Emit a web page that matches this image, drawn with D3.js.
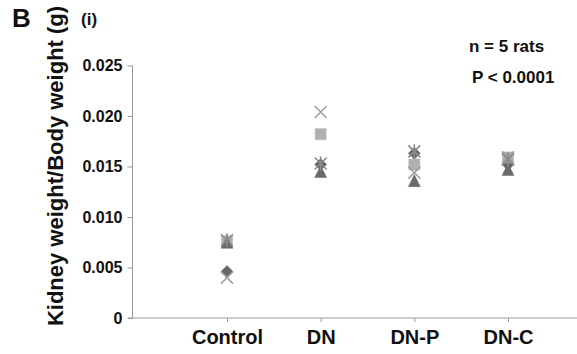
<!DOCTYPE html>
<html>
<head>
<meta charset="utf-8">
<script src="https://cdn.jsdelivr.net/npm/d3@7"></script>
<style>
  body { margin: 0; background: #fff; }
  svg { display: block; font-family: "Liberation Sans", Arial, sans-serif; font-weight: bold; }
</style>
</head>
<body>
<div id="chart"></div>
<script>
const groups = ['Control', 'DN', 'DN-P', 'DN-C'];
const yTicks = [0, 0.005, 0.010, 0.015, 0.020, 0.025];

// one array per rat (Excel series), value per group
const ratDiamond = [0.0046, 0.0152, 0.0163, 0.0152];
const ratSquare = [0.0076, 0.0182, 0.0152, 0.0159];
const ratTriangle = [0.0075, 0.0145, 0.0136, 0.0147];
const ratCross = [0.0040, 0.0204, 0.0144, 0.0159];
const ratStar = [0.0077, 0.0153, 0.0165, 0.0157];

const series = [
  {shape: 'diamond', color: '#666666', values: ratDiamond},
  {shape: 'square', color: '#b0b0b0', values: ratSquare},
  {shape: 'triangle', color: '#6a6a6a', values: ratTriangle},
  {shape: 'cross', color: '#a0a0a0', values: ratCross},
  {shape: 'star', color: '#8a8a8a', values: ratStar}
];

const width = 577, height = 354;
const svg = d3.select('#chart').append('svg')
  .attr('width', width)
  .attr('height', height);

const x = d3.scalePoint().domain(groups).range([227, 508]);
const y = d3.scaleLinear().domain([0, 0.025]).range([318, 65.5]);
const axisColor = '#9a9a9a';

// y axis
const yAxis = svg.append('g')
  .attr('transform', 'translate(132.5,0)')
  .call(d3.axisLeft(y).tickValues(yTicks).tickSize(5).tickPadding(5)
    .tickFormat(d => d === 0 ? '0' : d3.format('.3f')(d)));
yAxis.select('.domain').attr('stroke', axisColor).attr('d', `M0,${y(0.025)}V${y(0)}`);
yAxis.selectAll('.tick line').attr('stroke', axisColor);
yAxis.selectAll('.tick text')
  .attr('fill', '#111')
  .style('font-size', '16px')
  .style('font-weight', 'bold')
  .style('font-family', '"Liberation Sans", Arial, sans-serif');

// x axis
const xAxis = svg.append('g')
  .attr('transform', `translate(0,${y(0)})`)
  .call(d3.axisBottom(x).tickSize(4).tickPadding(10));
xAxis.select('.domain').attr('stroke', axisColor).attr('d', `M128,0H${width}`);
xAxis.selectAll('.tick line').attr('stroke', axisColor);
xAxis.selectAll('.tick text')
  .attr('fill', '#111')
  .attr('dy', '0.6em')
  .style('font-size', '20px')
  .style('font-weight', 'bold')
  .style('font-family', '"Liberation Sans", Arial, sans-serif');

// markers
const s = 6;
function markerPath(shape) {
  switch (shape) {
    case 'diamond': return `M0,${-s}L${s},0L0,${s}L${-s},0Z`;
    case 'square': return `M${-s + 0.5},${-s + 0.5}H${s - 0.5}V${s - 0.5}H${-s + 0.5}Z`;
    case 'triangle': return `M0,${-s}L${s},${s}H${-s}Z`;
    case 'cross': return `M${-s},${-s}L${s},${s}M${s},${-s}L${-s},${s}`;
    case 'star': return `M${-s},${-s}L${s},${s}M${s},${-s}L${-s},${s}M0,${-s - 1}V${s + 1}`;
  }
}

series.forEach(ser => {
  const filled = ser.shape === 'diamond' || ser.shape === 'square' || ser.shape === 'triangle';
  svg.append('g').selectAll('path')
    .data(ser.values.map((v, i) => ({g: groups[i], v})))
    .enter().append('path')
    .attr('transform', d => `translate(${x(d.g)},${y(d.v)})`)
    .attr('d', markerPath(ser.shape))
    .attr('fill', filled ? ser.color : 'none')
    .attr('stroke', ser.color)
    .attr('stroke-width', filled ? 0.5 : 1.6);
});

// titles and annotations
svg.append('text')
  .attr('transform', 'translate(63,166) rotate(-90)')
  .attr('text-anchor', 'middle')
  .style('font-size', '22px')
  .attr('fill', '#111')
  .text('Kidney weight/Body weight (g)');

svg.append('text').attr('x', 12).attr('y', 27).style('font-size', '26px').attr('fill', '#111').text('B');
svg.append('text').attr('x', 81).attr('y', 25).style('font-size', '17px').attr('fill', '#111').text('(i)');
svg.append('text').attr('x', 469).attr('y', 52).style('font-size', '17px').attr('fill', '#111').text('n = 5 rats');
svg.append('text').attr('x', 472).attr('y', 83).style('font-size', '17px').attr('fill', '#111').text('P < 0.0001');
</script>
</body>
</html>
